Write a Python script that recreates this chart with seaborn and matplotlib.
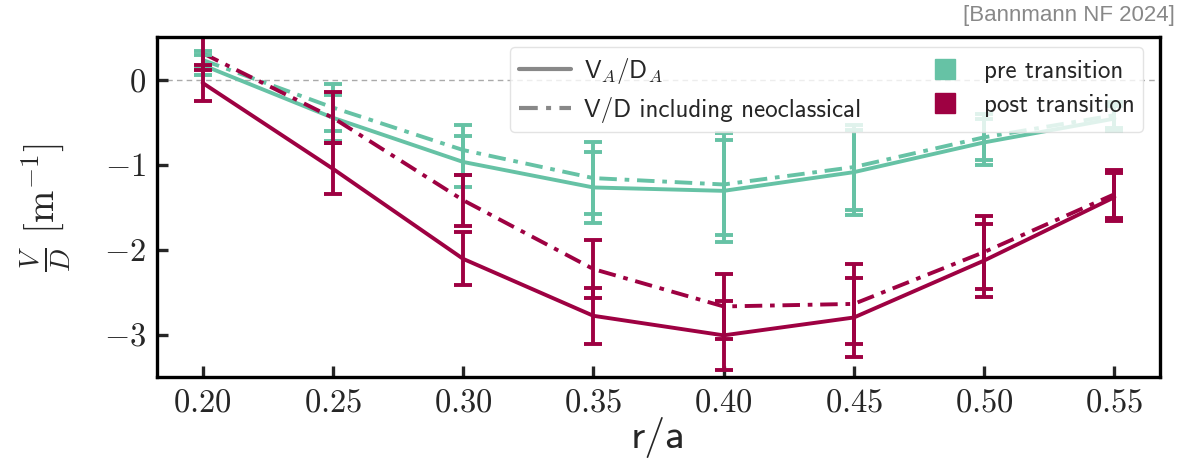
import numpy as np
import pandas as pd
import matplotlib
matplotlib.use("Agg")
import matplotlib.pyplot as plt
from matplotlib.lines import Line2D
import seaborn as sns

# ---- data ----
r = [0.20, 0.25, 0.30, 0.35, 0.40, 0.45, 0.50, 0.55]
pre_A = [0.17, -0.45, -0.97, -1.27, -1.31, -1.09, -0.74, -0.46]
pre_A_err = [0.115, 0.27, 0.30, 0.42, 0.60, 0.50, 0.27, 0.15]
pre_neo = [0.23, -0.33, -0.83, -1.16, -1.235, -1.03, -0.68, -0.42]
pre_neo_err = [0.11, 0.28, 0.29, 0.42, 0.60, 0.50, 0.27, 0.15]
post_A = [-0.04, -1.05, -2.11, -2.78, -3.01, -2.80, -2.13, -1.385]
post_A_err = [0.21, 0.30, 0.31, 0.33, 0.41, 0.47, 0.43, 0.28]
post_neo = [0.31, -0.45, -1.42, -2.23, -2.67, -2.64, -2.03, -1.35]
post_neo_err = [0.20, 0.30, 0.30, 0.34, 0.38, 0.47, 0.43, 0.28]

phases = ["pre transition", "post transition"]
models = [r"V$_A$/D$_A$", "V/D including neoclassical"]
xticks = [0.20, 0.25, 0.30, 0.35, 0.40, 0.45, 0.50, 0.55]
xtick_labels = [r"$0.20$", r"$0.25$", r"$0.30$", r"$0.35$", r"$0.40$", r"$0.45$", r"$0.50$", r"$0.55$"]
yticks = [0, -1, -2, -3]
ytick_labels = [r"$0$", r"$-1$", r"$-2$", r"$-3$"]
colors = {"pre transition": "#66c2a5", "post transition": "#9e0142"}

rows = []
for ph, (a, ae, n, ne) in zip(phases, [(pre_A, pre_A_err, pre_neo, pre_neo_err),
                                        (post_A, post_A_err, post_neo, post_neo_err)]):
    for m, vals, errs in [(models[0], a, ae), (models[1], n, ne)]:
        for x, v, e in zip(r, vals, errs):
            rows.append(dict(r=x, VD=v, err=e, phase=ph, model=m))
df = pd.DataFrame(rows)

sns.set_theme(style="white")
plt.rcParams["mathtext.fontset"] = "cm"
plt.rcParams["font.family"] = ["cmss10", "DejaVu Sans"]
plt.rcParams["axes.unicode_minus"] = False

fig = plt.figure(figsize=(11.81, 4.67), dpi=100)
ax = fig.add_axes([157 / 1181, 1 - 377 / 467, (1160 - 157) / 1181, (377 - 37) / 467])

LW = 2.8
dd = (4.5, 2.0, 1.2, 2.0)
ax.axhline(0, color="#aaaaaa", lw=1.0, ls=(0, (4, 3)), zorder=0)

sns.lineplot(data=df, x="r", y="VD", hue="phase", style="model",
             hue_order=phases, style_order=models, palette=colors,
             dashes={models[0]: "", models[1]: dd}, lw=LW, ax=ax,
             legend=False, estimator=None, errorbar=None, sort=False)

for ph in phases:
    for m in models:
        sub = df[(df.phase == ph) & (df.model == m)]
        ax.errorbar(sub.r, sub.VD, yerr=sub.err, fmt="none", ecolor=colors[ph],
                    elinewidth=LW, capsize=6.3, capthick=LW, zorder=2)

ax.set_xlim(0.1825, 0.5675)
ax.set_ylim(-3.5, 0.5)
ax.set_xticks(xticks, xtick_labels)
ax.set_yticks(yticks, ytick_labels)
ax.tick_params(direction="in", length=8, width=2.4, labelsize=23.5, pad=8,
               left=True, bottom=True, top=False, right=False)
for s in ax.spines.values():
    s.set_linewidth(2.4)
    s.set_color("black")

ax.set_xlabel("r/a", fontsize=30, labelpad=0)
ax.set_ylabel(r"$\frac{V}{D}\ [\mathrm{m}^{-1}]$", fontsize=28, labelpad=22)

handles = [
    Line2D([], [], color="#888888", lw=3.0, ls="-"),
    Line2D([], [], color="#888888", lw=3.0, ls=(0, (4.5, 2.0, 1.2, 2.0))),
    Line2D([], [], color=colors["pre transition"], marker="s", ls="none", markersize=14),
    Line2D([], [], color=colors["post transition"], marker="s", ls="none", markersize=14),
]
labels = [models[0], models[1], phases[0], phases[1]]
leg = ax.legend(handles, labels, ncol=2, loc="upper right",
                bbox_to_anchor=((1143 - 157) / 1003, 1 - 10 / 340), borderaxespad=0,
                fontsize=18, handlelength=2.1, handletextpad=0.5,
                columnspacing=2.3, labelspacing=0.45, borderpad=0.35,
                frameon=True, fancybox=True, framealpha=0.8)
leg.get_frame().set_edgecolor("#dddddd")

fig.text(0.995, 1 - 5 / 467, "[Bannmann NF 2024]", ha="right", va="top",
         color="#888888", fontsize=16, family=["Liberation Sans", "DejaVu Sans"])

fig.savefig("out.png", dpi=100)
